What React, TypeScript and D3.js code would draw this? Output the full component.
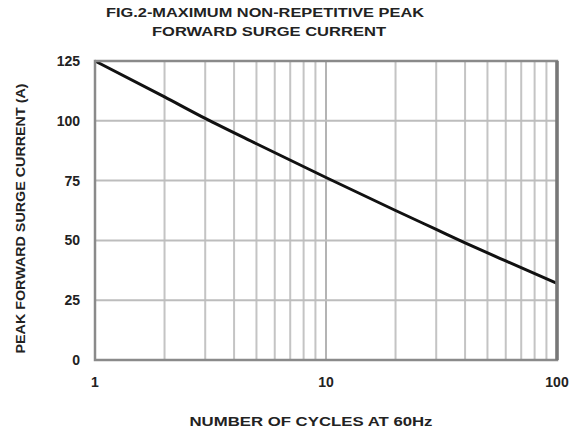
import React from 'react';
import * as d3 from 'd3';

// valeurs (cycles -> courant de crête)
const cycles = [1, 2, 3, 5, 10, 20, 30, 40, 60, 100];
const current = [125, 110, 101, 90.4, 76.3, 62.5, 54.6, 49, 41.4, 32];

const yTicks = [0, 25, 50, 75, 100, 125];
const xTicks = [1, 10, 100];
const xGrid = [2, 3, 4, 5, 6, 7, 8, 9, 20, 30, 40, 50, 60, 70, 80, 90];

const titleLines = ['FIG.2-MAXIMUM NON-REPETITIVE PEAK', 'FORWARD SURGE CURRENT'];
const xLabel = 'NUMBER OF CYCLES AT 60Hz';
const yLabel = 'PEAK FORWARD SURGE CURRENT (A)';

const W = 585;
const H = 434;
const margin = { top: 61, right: 28, bottom: 74, left: 95 };

const font = '"Liberation Sans", Arial, sans-serif';

const App: React.FC = () => {
  const innerW = W - margin.left - margin.right;
  const innerH = H - margin.top - margin.bottom;

  const x = d3.scaleLog().domain([1, 100]).range([0, innerW]);
  const y = d3.scaleLinear().domain([0, 125]).range([innerH, 0]);

  const line = d3.line<number>()
    .x((_, i) => x(cycles[i]))
    .y(d => y(d))
    .curve(d3.curveMonotoneX);

  return (
    <svg
      width={W}
      height={H}
      style={{ position: 'absolute', left: 0, top: 0, background: '#fff' }}
      fontFamily={font}
      fontWeight="bold"
    >
      {/* titre */}
      <text x={265} y={17} textAnchor="middle" fontSize={12} textLength={318} lengthAdjust="spacingAndGlyphs" fill="#222">
        {titleLines[0]}
      </text>
      <text x={269} y={36} textAnchor="middle" fontSize={12} textLength={234} lengthAdjust="spacingAndGlyphs" fill="#222">
        {titleLines[1]}
      </text>

      <g transform={`translate(${margin.left},${margin.top})`}>
        {/* grille verticale */}
        {xGrid.map(v => (
          <line key={'gx' + v} x1={x(v)} x2={x(v)} y1={0} y2={innerH} stroke="#c4c4c4" strokeWidth={2} />
        ))}
        <line x1={x(10)} x2={x(10)} y1={0} y2={innerH} stroke="#b4b4b4" strokeWidth={2} />
        {/* grille horizontale */}
        {yTicks.slice(1, -1).map(v => (
          <line key={'gy' + v} x1={0} x2={innerW} y1={y(v)} y2={y(v)} stroke="#bdbdbd" strokeWidth={2} />
        ))}

        {/* courbe */}
        <path d={line(current) || ''} fill="none" stroke="#111" strokeWidth={3} />

        {/* cadre */}
        <rect x={0} y={0} width={innerW} height={innerH} fill="none" stroke="#8a8a8a" strokeWidth={2.5} />
        <line x1={innerW} x2={innerW} y1={0} y2={innerH} stroke="#777" strokeWidth={3.5} />

        {/* graduations Y */}
        {yTicks.map(v => (
          <text key={'ty' + v} x={-15} y={y(v)} dy="0.35em" textAnchor="end" fontSize={14} fill="#222">
            {v}
          </text>
        ))}
        {/* graduations X */}
        {xTicks.map(v => (
          <text key={'tx' + v} x={x(v)} y={innerH + 27} textAnchor="middle" fontSize={14} fill="#222">
            {v}
          </text>
        ))}

        {/* titres des axes */}
        <text x={innerW / 2 - 15} y={innerH + 66} textAnchor="middle" fontSize={12} textLength={243} lengthAdjust="spacingAndGlyphs" fill="#222">
          {xLabel}
        </text>
        <text
          transform={`translate(${-70},${innerH / 2 + 8}) rotate(-90)`}
          textAnchor="middle"
          fontSize={12}
          textLength={270}
          lengthAdjust="spacingAndGlyphs"
          fill="#222"
        >
          {yLabel}
        </text>
      </g>
    </svg>
  );
};

export default App;
